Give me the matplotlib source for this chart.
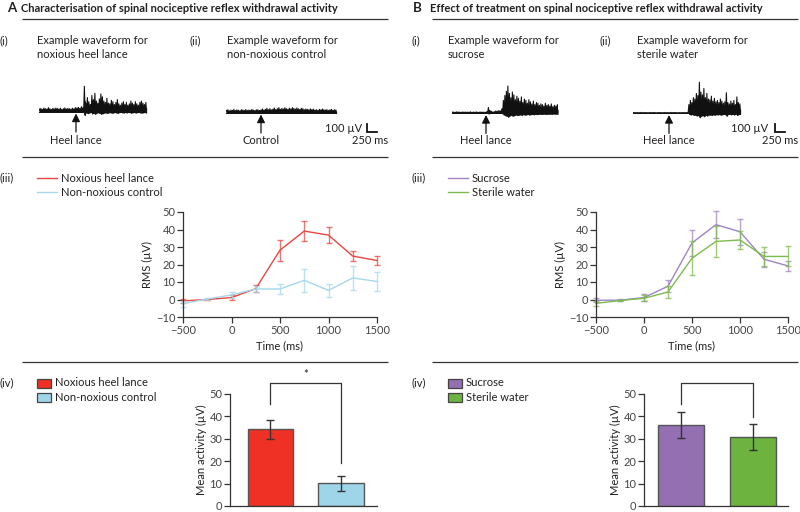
import numpy as np
import matplotlib
matplotlib.use("Agg")
import matplotlib.pyplot as plt

plt.rcParams['font.family'] = ['Lato', 'DejaVu Sans']

# ---------------- data ----------------
times = [-500, -250, 0, 250, 500, 750, 1000, 1250, 1500]

noxious_mean = [-0.8, 0.0, 1.1, 6.2, 28.2, 39.1, 36.8, 24.8, 22.3]
noxious_err = [1.3, 0.5, 1.6, 2.0, 6.0, 5.7, 4.7, 2.7, 2.4]
control_mean = [-2.4, 0.3, 2.6, 6.0, 6.0, 11.0, 5.2, 12.3, 10.3]
control_err = [1.6, 0.5, 1.6, 1.6, 2.6, 6.7, 3.9, 6.7, 5.6]

sucrose_mean = [-0.4, -0.4, 1.1, 7.6, 32.3, 42.8, 38.7, 23.0, 19.2]
sucrose_err = [1.0, 0.5, 1.9, 3.5, 7.6, 7.7, 7.4, 4.2, 2.7]
water_mean = [-2.2, -0.6, 0.7, 4.3, 23.6, 33.2, 34.0, 24.6, 24.6]
water_err = [1.6, 0.5, 1.6, 3.2, 9.6, 8.8, 5.3, 5.2, 5.7]

barA_labels = ['Noxious heel lance', 'Non-noxious control']
barA_values = [34.2, 10.2]
barA_err = [4.1, 3.3]
barB_labels = ['Sucrose', 'Sterile water']
barB_values = [36.0, 30.8]
barB_err = [5.8, 5.8]

# example waveforms: amplitude (µV) per 37.5 ms sample
wave_dt = 37.5
wave_heel = [35, 45, 30, 50, 40, 35, 55, 40, 30, 45, 38, 50, 42, 35, 48, 30, 40, 52, 36, 44,
             40, 33, 47, 38, 55,
             50, 60, 45, 70, 55,
             360, 120, 200, 140, 100, 230, 170, 260, 150, 120, 180, 250, 210, 150, 130, 190,
             120, 110, 160, 140, 100, 130, 170, 110, 90, 120, 140, 100, 130, 90, 110, 150,
             120, 100, 140, 110, 90, 130, 150, 120, 100, 130]
wave_control = [30, 40, 25, 35, 30, 45, 28, 38, 32, 25, 40, 35, 30, 42, 28, 36, 30, 45, 33, 28,
                38, 40, 30, 35,
                50, 35, 45, 60, 40, 55, 38, 48, 65, 42, 55, 70, 45, 60, 50, 68, 55, 45, 62, 50,
                70, 58, 48, 65, 52, 45, 60, 55, 40, 50, 45, 38, 52, 42, 48, 35, 40, 30, 45, 38,
                50, 40, 35, 42, 30, 38, 45, 32, 40, 35]
wave_sucrose = [12, 15, 10, 18, 12, 14, 10, 16, 12, 15, 11, 13, 17, 10, 14, 12, 16, 11, 13, 15,
                12, 14, 10,
                20, 80, 40, 25,
                15, 20, 30, 25, 35, 30, 60,
                180, 250, 310, 385, 280, 220, 300, 260, 190, 240, 210, 170, 230, 150, 200, 180,
                140, 190, 160, 130, 170, 120, 150, 140, 110, 130, 120, 100, 140, 110, 120, 100,
                130, 90, 110, 100, 120]
wave_water = [6, 8, 5, 7, 6, 9, 5, 8, 6, 7, 5, 8, 6, 7, 9, 5, 6, 8, 7, 5, 6, 8, 6, 7, 5, 9, 6,
              7, 8, 5, 6, 7, 5, 8, 6, 7, 6,
              120, 180, 150, 220, 200, 280, 250, 440, 300, 260, 350, 220, 280, 200, 190, 240,
              170, 210, 160, 180, 150, 200, 170, 140, 160, 290, 150, 130, 170, 140, 180, 120,
              230, 150, 130]
arrow_times = [925, 875, 850, 900]

# ---------------- style ----------------
TXT = '#231f20'
TICK = '#444444'
RED = '#ee3124'
REDL = '#e8473f'
BLUE = '#9fd5e8'
BLUEL = '#a5d8ec'
PURP = '#9470b3'
PURPL = '#a085c2'
GREEN = '#6cb33f'
GREENL = '#7cbc4c'
FS = 8.0
TFS = 8.0

W, H = 800, 512
fig = plt.figure(figsize=(W / 100, H / 100), dpi=100)


def box(x0, y0, x1, y1):
    return [x0 / W, 1 - y1 / H, (x1 - x0) / W, (y1 - y0) / H]


ov = fig.add_axes([0, 0, 1, 1])
ov.set_xlim(0, W)
ov.set_ylim(H, 0)
ov.axis('off')


def txt(x, y, s, ha='left', **kw):
    kw.setdefault('fontsize', FS)
    kw.setdefault('color', TXT)
    ov.text(x, y, s, ha=ha, va='center', **kw)


def hline(x0, x1, y, **kw):
    ov.plot([x0, x1], [y, y], color=kw.get('color', '#333333'), lw=kw.get('lw', 0.9),
            solid_capstyle='butt')


# headers
txt(7, 8, 'A', fontsize=9.5, fontweight='bold')
txt(21, 8, 'Characterisation of spinal nociceptive reflex withdrawal activity', fontsize=FS,
    fontweight='bold')
txt(413, 8, 'B', fontsize=9.5, fontweight='bold')
txt(430, 8, 'Effect of treatment on spinal nociceptive reflex withdrawal activity',
    fontsize=FS, fontweight='bold')
for x0, x1 in [(22, 388), (432, 798)]:
    hline(x0, x1, 19)
    hline(x0, x1, 157)
    hline(x0, x1, 362)

txt(0, 41, '(i)')
txt(37, 41, 'Example waveform for')
txt(37, 54, 'noxious heel lance')
txt(190, 41, '(ii)')
txt(227, 41, 'Example waveform for')
txt(227, 54, 'non-noxious control')
txt(411, 41, '(i)')
txt(448, 41, 'Example waveform for')
txt(448, 54, 'sucrose')
txt(600, 41, '(ii)')
txt(637, 41, 'Example waveform for')
txt(637, 54, 'sterile water')

# waveforms
UV_PER_PX = 100 / 7.0
MS_PER_PX = 250 / 10.0
waves = [(wave_heel, 39, 111.5, 'Heel lance'),
         (wave_control, 226, 112.5, 'Control'),
         (wave_sucrose, 452, 113, 'Heel lance'),
         (wave_water, 633, 113, 'Heel lance')]
for (amp, x0, yb, lab), at in zip(waves, arrow_times):
    n = len(amp)
    dur = n * wave_dt
    x1 = x0 + dur / MS_PER_PX
    top, bot = yb - 34, yb + 24
    ax = fig.add_axes(box(x0, top, x1, bot))
    ax.set_xlim(0, dur)
    ax.set_ylim(-(bot - yb) * UV_PER_PX, (yb - top) * UV_PER_PX)
    ax.axis('off')
    t = np.arange(n) * wave_dt
    a = np.array(amp, dtype=float)
    # zig-zag trace: peak at each sample, small trough between samples
    tz = np.empty(2 * n)
    yz = np.empty(2 * n)
    tz[0::2] = t + wave_dt * 0.25
    tz[1::2] = t + wave_dt * 0.75
    yz[0::2] = a
    yz[1::2] = -0.15 * a
    ax.fill_between(tz, -0.15 * np.repeat(a, 2), np.repeat(a, 2) * 0.45,
                    color='#111111', lw=0)
    ax.plot(tz, yz, color='#111111', lw=0.8)
    ax.plot([0, dur], [0, 0], color='#111111', lw=0.7)
    ax.annotate('', xy=(at, -2.0 * UV_PER_PX), xytext=(at, -20.5 * UV_PER_PX),
                arrowprops=dict(arrowstyle='-|>', color='#111111', lw=0.9,
                                mutation_scale=12, shrinkA=0, shrinkB=0),
                annotation_clip=False)
    ax_x = x0 + at / MS_PER_PX
    txt(ax_x, 140, lab, ha='center')

# scale bars
for lx, tx_r, tx2_r in [(367, 362, 388), (775, 768, 798)]:
    ov.plot([lx, lx, lx + 10], [124, 132, 132], color='#111111', lw=1.3,
            solid_joinstyle='miter')
    txt(tx_r, 128, '100 µV', ha='right')
    txt(tx2_r, 140, '250 ms', ha='right')

# (iii) legends
txt(0, 178, '(iii)')
txt(411, 178, '(iii)')
for lx, entries in [(37, [('Noxious heel lance', REDL), ('Non-noxious control', BLUEL)]),
                    (448, [('Sucrose', PURPL), ('Sterile water', GREENL)])]:
    for i, (lab, c) in enumerate(entries):
        yy = 178 + 14 * i
        ov.plot([lx, lx + 20], [yy, yy], color=c, lw=1.0)
        txt(lx + 24, yy, lab)


def style_axes(ax):
    for s in ['top', 'right']:
        ax.spines[s].set_visible(False)
    for s in ['left', 'bottom']:
        ax.spines[s].set_color('#333333')
        ax.spines[s].set_linewidth(0.9)
    ax.tick_params(direction='out', length=4, width=0.9, color='#333333',
                   labelsize=TFS, labelcolor=TICK, pad=1.5)


def line_chart(rect, series):
    ax = fig.add_axes(box(*rect))
    ax.patch.set_alpha(0)
    for m, e, c in series:
        ax.errorbar(times, m, yerr=e, color=c, lw=0, elinewidth=1.0, capsize=2.4,
                    capthick=1.0, alpha=0.75, clip_on=False)
        ax.plot(times, m, color=c, lw=1.0, clip_on=False)
    ax.set_xlim(-500, 1500)
    ax.set_ylim(-10, 50)
    ax.set_xticks([-500, 0, 500, 1000, 1500])
    ax.set_yticks([-10, 0, 10, 20, 30, 40, 50])
    ax.set_xlabel('Time (ms)', fontsize=FS, color=TXT, labelpad=3)
    ax.set_ylabel('RMS (µV)', fontsize=FS, color=TXT, labelpad=2)
    style_axes(ax)
    return ax


line_chart((183, 212, 377, 317), [(noxious_mean, noxious_err, REDL),
                                  (control_mean, control_err, BLUEL)])
line_chart((596, 212, 788, 317), [(sucrose_mean, sucrose_err, PURPL),
                                  (water_mean, water_err, GREENL)])

# (iv) legends
txt(0, 383, '(iv)')
txt(411, 383, '(iv)')
for lx, labs, cols in [(37, barA_labels, [RED, BLUE]), (448, barB_labels, [PURP, GREEN])]:
    for i, (lab, c) in enumerate(zip(labs, cols)):
        yy = 383 + 14.5 * i
        ov.add_patch(plt.Rectangle((lx, yy - 4.5), 14, 9, facecolor=c, edgecolor='#444444',
                                   lw=0.9))
        txt(lx + 18, yy, lab)


def bar_chart(rect, vals, errs, cols, xlim, bracket, star):
    ax = fig.add_axes(box(*rect))
    ax.patch.set_alpha(0)
    ax.bar([0, 1], vals, width=0.64, color=cols, edgecolor='#555555', lw=1.0)
    ax.errorbar([0, 1], vals, yerr=errs, fmt='none', ecolor='#333333', elinewidth=1.0,
                capsize=3.2, capthick=1.0)
    ax.set_xlim(*xlim)
    ax.set_ylim(0, 50)
    ax.set_yticks([0, 10, 20, 30, 40, 50])
    ax.set_xticks([])
    ax.set_ylabel('Mean activity (µV)', fontsize=FS, color=TXT, labelpad=2)
    style_axes(ax)
    l0, top, r0 = bracket
    ax.plot([0, 0, 1, 1], [l0, top, top, r0], color='#333333', lw=0.9, clip_on=False)
    if star:
        ax.text(0.5, top + 1.2, star, ha='center', va='bottom', fontsize=FS, color=TXT)
    return ax


bar_chart((230, 394, 377, 506), barA_values, barA_err, [RED, BLUE], (-0.574, 1.51),
          (45.7, 54.9, 19.0), '*')
bar_chart((644, 394, 788, 506), barB_values, barB_err, [PURP, GREEN], (-0.514, 1.486),
          (45.5, 54.9, 39.7), None)

fig.savefig('out.png', dpi=100)
